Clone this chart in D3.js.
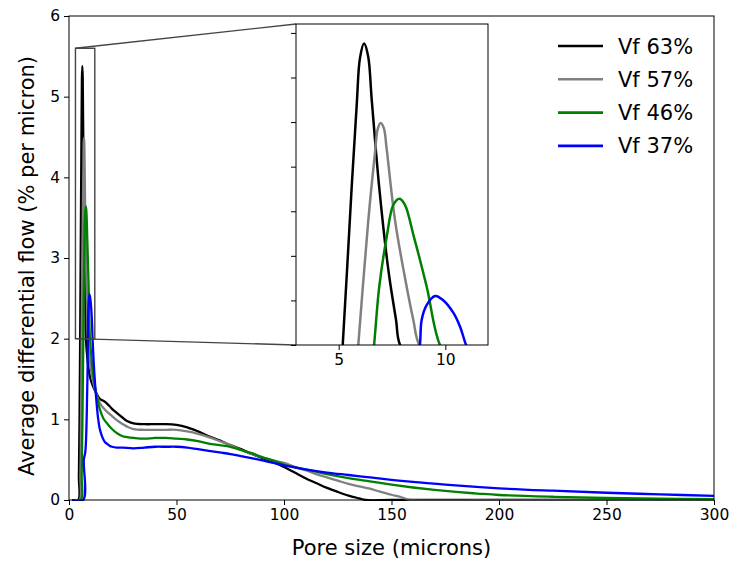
<!DOCTYPE html>
<html>
<head>
<meta charset="utf-8">
<script src="https://cdn.jsdelivr.net/npm/d3@7"></script>
<style>
  body { margin: 0; background: #fff; }
  svg { display: block; font-family: "DejaVu Sans", sans-serif; }
</style>
</head>
<body>
<svg id="chart" width="729" height="561"></svg>
<script>
// ---------------- data ----------------
const seriesNames = ["Vf 63%", "Vf 57%", "Vf 46%", "Vf 37%"];
const seriesColors = ["#000000", "#808080", "#008000", "#0000ff"];

const x63 = [1.5, 4.3, 4.6, 4.9, 5.19, 5.61, 5.85, 6.0, 6.19, 6.38, 6.55, 6.9, 7.33, 7.69, 7.88, 9, 10, 11, 12, 13, 14.4, 16, 18.3, 20, 22.2, 25, 27, 30, 35, 40, 45, 50, 55, 60, 65, 70, 75, 80, 85, 90, 95, 100, 105, 110, 115, 120, 125, 130, 135, 138, 150, 200, 250, 300];
const y63 = [0, 0, 0.3, 1.0, 2.0, 3.77, 4.71, 5.22, 5.38, 5.24, 4.75, 3.77, 2.84, 2.28, 2.0, 1.65, 1.5, 1.42, 1.36, 1.31, 1.25, 1.23, 1.18, 1.13, 1.08, 1.02, 0.98, 0.95, 0.94, 0.94, 0.94, 0.93, 0.9, 0.85, 0.79, 0.74, 0.68, 0.63, 0.57, 0.52, 0.47, 0.41, 0.34, 0.27, 0.21, 0.15, 0.1, 0.055, 0.02, 0, 0, 0, 0, 0];

const x57 = [1.5, 4.9, 5.3, 5.6, 5.92, 6.39, 6.7, 6.83, 6.97, 7.12, 7.25, 7.64, 8.19, 8.5, 8.78, 10, 11, 12, 13, 14.4, 16, 18.3, 20, 22.2, 25, 27, 30, 35, 40, 45, 50, 55, 60, 65, 70, 75, 80, 85, 90, 95, 100, 105, 110, 115, 120, 125, 130, 135, 140, 145, 150, 155, 158, 200, 250, 300];
const y57 = [0, 0, 0.3, 1.0, 2.0, 3.40, 4.15, 4.42, 4.49, 4.43, 4.2, 3.40, 2.65, 2.28, 2.0, 1.65, 1.5, 1.38, 1.29, 1.2, 1.14, 1.08, 1.04, 0.99, 0.94, 0.91, 0.88, 0.87, 0.87, 0.87, 0.87, 0.85, 0.82, 0.78, 0.73, 0.68, 0.62, 0.57, 0.53, 0.49, 0.46, 0.41, 0.37, 0.32, 0.28, 0.24, 0.2, 0.17, 0.14, 0.1, 0.065, 0.03, 0.005, 0, 0, 0];

const x46 = [1.5, 5.5, 5.9, 6.25, 6.66, 6.9, 7.25, 7.56, 7.84, 8.09, 8.53, 9.13, 9.75, 10.5, 11, 12, 13, 14.4, 16, 18.3, 20, 22.2, 25, 27, 30, 35, 40, 45, 50, 55, 60, 65, 70, 75, 80, 85, 90, 95, 100, 110, 120, 130, 140, 150, 160, 170, 180, 190, 200, 225, 250, 275, 300];
const y46 = [0, 0, 0.3, 1.0, 2.0, 2.65, 3.21, 3.57, 3.64, 3.58, 3.21, 2.65, 2.0, 1.75, 1.6, 1.42, 1.28, 1.12, 1.01, 0.93, 0.88, 0.83, 0.79, 0.78, 0.77, 0.76, 0.77, 0.77, 0.76, 0.75, 0.73, 0.70, 0.68, 0.66, 0.62, 0.58, 0.53, 0.49, 0.44, 0.38, 0.32, 0.27, 0.23, 0.19, 0.155, 0.125, 0.1, 0.08, 0.062, 0.04, 0.025, 0.016, 0.01];

const x37 = [1.5, 6.6, 6.9, 7.6, 8.5, 8.81, 8.89, 9.13, 9.52, 9.91, 10.38, 10.7, 10.97, 11.5, 12.1, 13, 13.6, 14.4, 15.5, 16.7, 18, 19, 20, 22.2, 25, 30, 35, 40, 45, 50, 55, 60, 70, 75, 80, 90, 100, 110, 120, 130, 140, 150, 160, 175, 200, 225, 250, 275, 300];
const y37 = [0, 0, 0.5, 0.6, 1.4, 2.0, 2.28, 2.45, 2.55, 2.50, 2.36, 2.2, 2.0, 1.7, 1.45, 1.15, 1.0, 0.87, 0.78, 0.72, 0.69, 0.67, 0.66, 0.65, 0.65, 0.64, 0.65, 0.66, 0.66, 0.66, 0.65, 0.63, 0.59, 0.57, 0.545, 0.49, 0.43, 0.38, 0.34, 0.31, 0.28, 0.25, 0.225, 0.19, 0.145, 0.115, 0.09, 0.07, 0.05];

const seriesX = [x63, x57, x46, x37];
const seriesY = [y63, y57, y46, y37];

const xTicks = [0, 50, 100, 150, 200, 250, 300];
const yTicks = [0, 1, 2, 3, 4, 5, 6];
const insetXTicks = [5, 10];
const insetYTicks = [2.0, 2.5, 3.0, 3.5, 4.0, 4.5, 5.0, 5.5];
const insetXDomain = [3, 12];
const insetYDomain = [2, 5.6];

// ---------------- layout ----------------
const svg = d3.select("#chart");
const M = { left: 69, right: 714, top: 16, bottom: 500 };
const INS = { left: 296, right: 488, top: 24, bottom: 345 };
const tickFont = 15.5, labelFont = 21;

const x = d3.scaleLinear().domain([0, 300]).range([M.left, M.right]);
const y = d3.scaleLinear().domain([0, 6]).range([M.bottom, M.top]);
const xi = d3.scaleLinear().domain(insetXDomain).range([INS.left, INS.right]);
const yi = d3.scaleLinear().domain(insetYDomain).range([INS.bottom, INS.top]);

const data = seriesNames.map((name, k) => ({
  name, color: seriesColors[k],
  pts: seriesX[k].map((xv, i) => [xv, seriesY[k][i]])
}));

const defs = svg.append("defs");
defs.append("clipPath").attr("id", "clipMain").append("rect")
  .attr("x", M.left).attr("y", M.top)
  .attr("width", M.right - M.left).attr("height", M.bottom - M.top + 1);
defs.append("clipPath").attr("id", "clipInset").append("rect")
  .attr("x", INS.left).attr("y", INS.top)
  .attr("width", INS.right - INS.left).attr("height", INS.bottom - INS.top);

// main lines
const lineMain = d3.line().x(d => x(d[0])).y(d => y(Math.max(0, d[1]))).curve(d3.curveCatmullRom.alpha(0.5));
const gMain = svg.append("g").attr("clip-path", "url(#clipMain)");
data.forEach(s => {
  gMain.append("path").attr("d", lineMain(s.pts))
    .attr("fill", "none").attr("stroke", s.color).attr("stroke-width", 2.3)
    .attr("stroke-linejoin", "round");
});

// main axes
const tickLen = 5;
const gx = svg.append("g").attr("transform", `translate(0,${M.bottom})`)
  .call(d3.axisBottom(x).tickValues(xTicks).tickSize(tickLen).tickPadding(4).tickFormat(d3.format("d")));
const gy = svg.append("g").attr("transform", `translate(${M.left},0)`)
  .call(d3.axisLeft(y).tickValues(yTicks).tickSize(tickLen).tickPadding(4).tickFormat(d3.format("d")));
[gx, gy].forEach(g => {
  g.select(".domain").remove();
  g.selectAll("text").attr("font-size", tickFont).attr("fill", "#000").attr("font-family", "DejaVu Sans");
  g.selectAll("line").attr("stroke", "#000");
});
svg.append("rect").attr("x", M.left).attr("y", M.top)
  .attr("width", M.right - M.left).attr("height", M.bottom - M.top)
  .attr("fill", "none").attr("stroke", "#000").attr("stroke-width", 1);

// axis labels
svg.append("text").attr("x", (M.left + M.right) / 2).attr("y", 555)
  .attr("text-anchor", "middle").attr("font-size", labelFont).attr("fill", "#000")
  .text("Pore size (microns)");
svg.append("text").attr("transform", `translate(34,${(M.top + M.bottom) / 2 + 8}) rotate(-90)`)
  .attr("text-anchor", "middle").attr("font-size", labelFont).attr("fill", "#000")
  .text("Average differential flow (% per micron)");

// inset indicator
const indColor = "#444";
svg.append("rect")
  .attr("x", x(insetXDomain[0])).attr("y", y(insetYDomain[1]))
  .attr("width", x(insetXDomain[1]) - x(insetXDomain[0]))
  .attr("height", y(insetYDomain[0]) - y(insetYDomain[1]))
  .attr("fill", "none").attr("stroke", indColor).attr("stroke-width", 1.4);
svg.append("line")
  .attr("x1", x(insetXDomain[0])).attr("y1", y(insetYDomain[1]))
  .attr("x2", INS.left).attr("y2", INS.top)
  .attr("stroke", indColor).attr("stroke-width", 1.4);
svg.append("line")
  .attr("x1", x(insetXDomain[0])).attr("y1", y(insetYDomain[0]))
  .attr("x2", INS.left).attr("y2", INS.bottom)
  .attr("stroke", indColor).attr("stroke-width", 1.4);

// inset
svg.append("rect").attr("x", INS.left).attr("y", INS.top)
  .attr("width", INS.right - INS.left).attr("height", INS.bottom - INS.top)
  .attr("fill", "#fff");
const lineIns = d3.line().x(d => xi(d[0])).y(d => yi(d[1])).curve(d3.curveCatmullRom.alpha(0.5));
const gIns = svg.append("g").attr("clip-path", "url(#clipInset)");
data.forEach(s => {
  gIns.append("path").attr("d", lineIns(s.pts))
    .attr("fill", "none").attr("stroke", s.color).attr("stroke-width", 2.5)
    .attr("stroke-linejoin", "round");
});
const gxi = svg.append("g").attr("transform", `translate(0,${INS.bottom})`)
  .call(d3.axisBottom(xi).tickValues(insetXTicks).tickSize(tickLen).tickPadding(4).tickFormat(d3.format("d")));
const gyi = svg.append("g").attr("transform", `translate(${INS.left},0)`)
  .call(d3.axisLeft(yi).tickValues(insetYTicks).tickSize(tickLen).tickFormat(""));
[gxi, gyi].forEach(g => {
  g.select(".domain").remove();
  g.selectAll("text").attr("font-size", tickFont).attr("fill", "#000").attr("font-family", "DejaVu Sans");
  g.selectAll("line").attr("stroke", "#000");
});
svg.append("rect").attr("x", INS.left).attr("y", INS.top)
  .attr("width", INS.right - INS.left).attr("height", INS.bottom - INS.top)
  .attr("fill", "none").attr("stroke", "#000").attr("stroke-width", 1);

// legend
const leg = svg.append("g");
data.forEach((s, i) => {
  const ly = 46 + i * 33.3;
  leg.append("line").attr("x1", 558).attr("x2", 603).attr("y1", ly).attr("y2", ly)
    .attr("stroke", s.color).attr("stroke-width", 2.6);
  leg.append("text").attr("x", 618).attr("y", ly).attr("dy", "0.36em")
    .attr("font-size", labelFont).attr("fill", "#000").text(s.name);
});
</script>
</body>
</html>
